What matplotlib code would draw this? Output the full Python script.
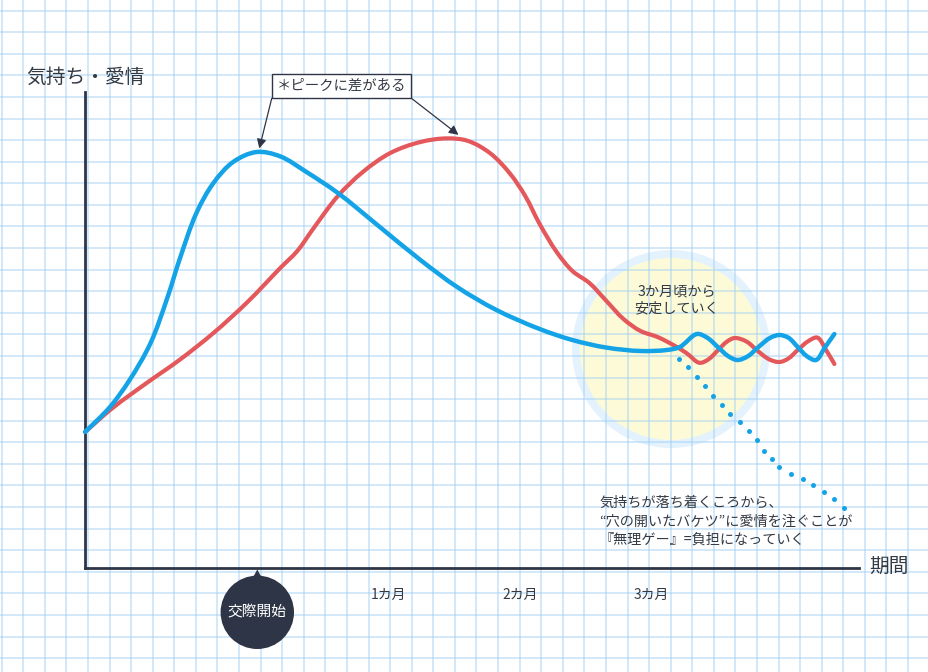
import numpy as np
import matplotlib
matplotlib.use("Agg")
import matplotlib.pyplot as plt
from matplotlib.path import Path
from matplotlib.patches import PathPatch, Circle, Polygon

plt.rcParams['font.family'] = ['Noto Sans CJK JP', 'DejaVu Sans']

# ---------------- data (x: months since start of relationship, y: feeling score) ----------
blue_x = [-1.32, -1.13, -0.98, -0.82, -0.69, -0.60, -0.47, -0.34, -0.19, -0.01, 0.17, 0.37,
          0.61, 0.93, 1.24, 1.52, 1.82, 2.15, 2.40, 2.66, 2.92, 3.12, 3.22, 3.35, 3.43, 3.51,
          3.59, 3.66, 3.74, 3.82, 3.91, 3.98, 4.05, 4.12, 4.19, 4.26, 4.33, 4.40]
blue_y = [34.0, 40.25, 47.0, 56.25, 67.75, 77.0, 88.75, 96.25, 101.5, 104.0, 102.9, 99.0,
          93.75, 85.25, 77.0, 70.25, 64.5, 59.75, 57.0, 55.1, 54.25, 54.5, 55.25, 58.5, 57.55, 55.25,
          52.95, 52.0, 52.95, 55.25, 57.55, 58.25, 57.55, 55.25, 52.95, 52.0, 55.25, 58.5]

red_x = [-1.32, -1.11, -0.85, -0.60, -0.34, -0.08, 0.17, 0.30, 0.42, 0.61, 0.80, 1.01, 1.24,
         1.44, 1.60, 1.77, 1.92, 2.04, 2.15, 2.28, 2.40, 2.53, 2.66, 2.79, 2.92, 3.05, 3.17,
         3.27, 3.37, 3.44, 3.51, 3.58, 3.64, 3.73, 3.81, 3.90, 3.98, 4.05, 4.12, 4.20, 4.27,
         4.34, 4.40]
red_y = [34.0, 40.0, 46.25, 52.0, 58.75, 66.5, 75.0, 79.25, 84.75, 93.0, 99.0, 103.75, 106.5,
         107.4, 106.8, 103.75, 98.75, 93.0, 86.0, 79.0, 74.25, 71.25, 66.75, 62.25, 59.25, 57.75, 55.75,
         53.75, 51.3, 52.2, 54.4, 56.6, 57.5, 56.6, 54.4, 52.2, 51.5, 52.4, 54.5, 56.7, 57.6,
         54.3, 51.0]

dot_x = [3.21, 3.28, 3.35, 3.41, 3.47, 3.54, 3.60, 3.68, 3.75, 3.81, 3.86, 3.92, 3.98, 4.07,
         4.16, 4.24, 4.32, 4.40, 4.47]
dot_y = [52.25, 50.25, 47.75, 45.5, 43.0, 40.75, 38.5, 36.5, 34.25, 32.0, 29.25, 27.25, 25.25,
         23.5, 22.25, 20.75, 19.0, 17.25, 15.0]

tick_months = [1, 2, 3]
tick_labels = ['1カ月', '2カ月', '3カ月']
start_label = '交際開始'
y_title = '気持ち・愛情'
x_title = '期間'
peak_note = '＊ピークに差がある'
stable_note = ['3か月頃から', '安定していく']
burden_note = ['気持ちが落ち着くころから、',
               '“穴の開いたバケツ”に愛情を注ぐことが',
               '『無理ゲー』=負担になっていく']

# ---------------- styles ----------------
BLUE = '#14a3e6'
RED = '#e4575a'
DARK = '#2e3546'
TEXT = '#333a45'
W, H = 929, 672


def P(x, y):
    """top-left pixel -> figure fraction"""
    return (x / W, 1 - y / H)


def smooth_path(ax, xs, ys, alpha=0.5):
    """centripetal Catmull-Rom through the data points, computed in display space"""
    data = np.column_stack([xs, ys]).astype(float)
    pts = ax.transData.transform(data)
    n = len(pts)
    ext = np.vstack([2 * pts[0] - pts[1], pts, 2 * pts[-1] - pts[-2]])
    verts = [pts[0]]
    codes = [Path.MOVETO]
    for i in range(n - 1):
        P0, P1, P2, P3 = ext[i], ext[i + 1], ext[i + 2], ext[i + 3]
        d1 = max(np.linalg.norm(P1 - P0), 1e-6) ** alpha
        d2 = max(np.linalg.norm(P2 - P1), 1e-6) ** alpha
        d3 = max(np.linalg.norm(P3 - P2), 1e-6) ** alpha
        b1 = (d1 ** 2 * P2 - d2 ** 2 * P0 + (2 * d1 ** 2 + 3 * d1 * d2 + d2 ** 2) * P1) / (3 * d1 * (d1 + d2))
        b2 = (d3 ** 2 * P1 - d2 ** 2 * P3 + (2 * d3 ** 2 + 3 * d3 * d2 + d2 ** 2) * P2) / (3 * d3 * (d3 + d2))
        verts += [b1, b2, P2]
        codes += [Path.CURVE4] * 3
    verts = ax.transData.inverted().transform(np.array(verts))
    return Path(verts, codes)


fig = plt.figure(figsize=(W / 100, H / 100), dpi=100)
fig.patch.set_facecolor('white')

# background (pixel coordinates) : highlight circle + grid paper
bg = fig.add_axes([0, 0, 1, 1])
bg.set_xlim(0, W)
bg.set_ylim(H, 0)
bg.axis('off')
bg.add_patch(Circle((671, 349), 99, facecolor='#e3f2fd', edgecolor='none', zorder=0))
bg.add_patch(Circle((671, 349), 91, facecolor='#fdfbd7', edgecolor='none', zorder=0.5))
step = 21.58
for k in range(45):
    bg.axvline(1.7 + k * step, color='#9ccdf3', alpha=0.45, lw=1.4, zorder=1)
for k in range(32):
    bg.axhline(10.7 + k * step, color='#9ccdf3', alpha=0.45, lw=1.4, zorder=1)

# main data axes
ax = fig.add_axes([85 / W, 104 / H, 774 / W, 476 / H])
ax.patch.set_alpha(0)
ax.set_xlim(-1.3206, 4.5878)
ax.set_ylim(0, 119)
for s in ['top', 'right']:
    ax.spines[s].set_visible(False)
for s in ['left', 'bottom']:
    ax.spines[s].set_color(DARK)
    ax.spines[s].set_linewidth(2.0)
ax.set_yticks([])
ax.set_xticks(tick_months, tick_labels)
ax.tick_params(axis='x', length=0, pad=14, labelsize=10, labelcolor=TEXT)

ax.plot(dot_x, dot_y, linestyle='none', marker='o', markersize=3.6, color=BLUE,
        markeredgewidth=0, zorder=3, clip_on=False)
ax.add_patch(PathPatch(smooth_path(ax, red_x, red_y), facecolor='none', edgecolor=RED, lw=3.0,
                       capstyle='round', joinstyle='round', zorder=4, clip_on=False))
ax.add_patch(PathPatch(smooth_path(ax, blue_x, blue_y), facecolor='none', edgecolor=BLUE, lw=3.2,
                       capstyle='round', joinstyle='round', zorder=5, clip_on=False))

# axis titles
fig.text(*P(26, 77), y_title, fontsize=14.2, color=TEXT, ha='left', va='center')
fig.text(*P(869, 566), x_title, fontsize=14.2, color=TEXT, ha='left', va='center')

# peak note with arrows
fig.text(*P(341.5, 86), peak_note, fontsize=10.4, color=TEXT, ha='center', va='center',
         bbox=dict(boxstyle='square,pad=0.32', facecolor='white', edgecolor=DARK, lw=1.0),
         zorder=6)
arrow = dict(arrowstyle='-|>,head_length=0.55,head_width=0.28', color=DARK, lw=0.9,
             shrinkA=0, shrinkB=0)
ax.annotate('', xy=(blue_x[9] + 0.02, blue_y[9] + 0.9), xycoords='data',
            xytext=P(271.7, 98.5), textcoords='figure fraction', arrowprops=arrow,
            annotation_clip=False, zorder=6)
ax.annotate('', xy=(red_x[13] + 0.09, red_y[13] + 0.9), xycoords='data',
            xytext=P(411.7, 98.5), textcoords='figure fraction', arrowprops=arrow,
            annotation_clip=False, zorder=6)

# stable note
fig.text(*P(677, 291.5), stable_note[0], fontsize=10.2, color=TEXT, ha='center', va='center')
fig.text(*P(677, 308.5), stable_note[1], fontsize=10.2, color=TEXT, ha='center', va='center')

# burden note
for i, line in enumerate(burden_note):
    fig.text(*P(599, 503 + i * 18.5), line, fontsize=10.2, color=TEXT, ha='left', va='center')

# start marker
bg.add_patch(Circle((257.3, 612.3), 36.7, facecolor=DARK, edgecolor='none', zorder=3))
bg.add_patch(Polygon([(251.5, 580), (263, 580), (257.3, 569.5)], closed=True,
                     facecolor=DARK, edgecolor='none', zorder=3))
bg.text(257.3, 612.3, start_label, fontsize=10.6, color='white', ha='center', va='center',
        zorder=4)

fig.savefig('out.png', dpi=100, facecolor='white')
